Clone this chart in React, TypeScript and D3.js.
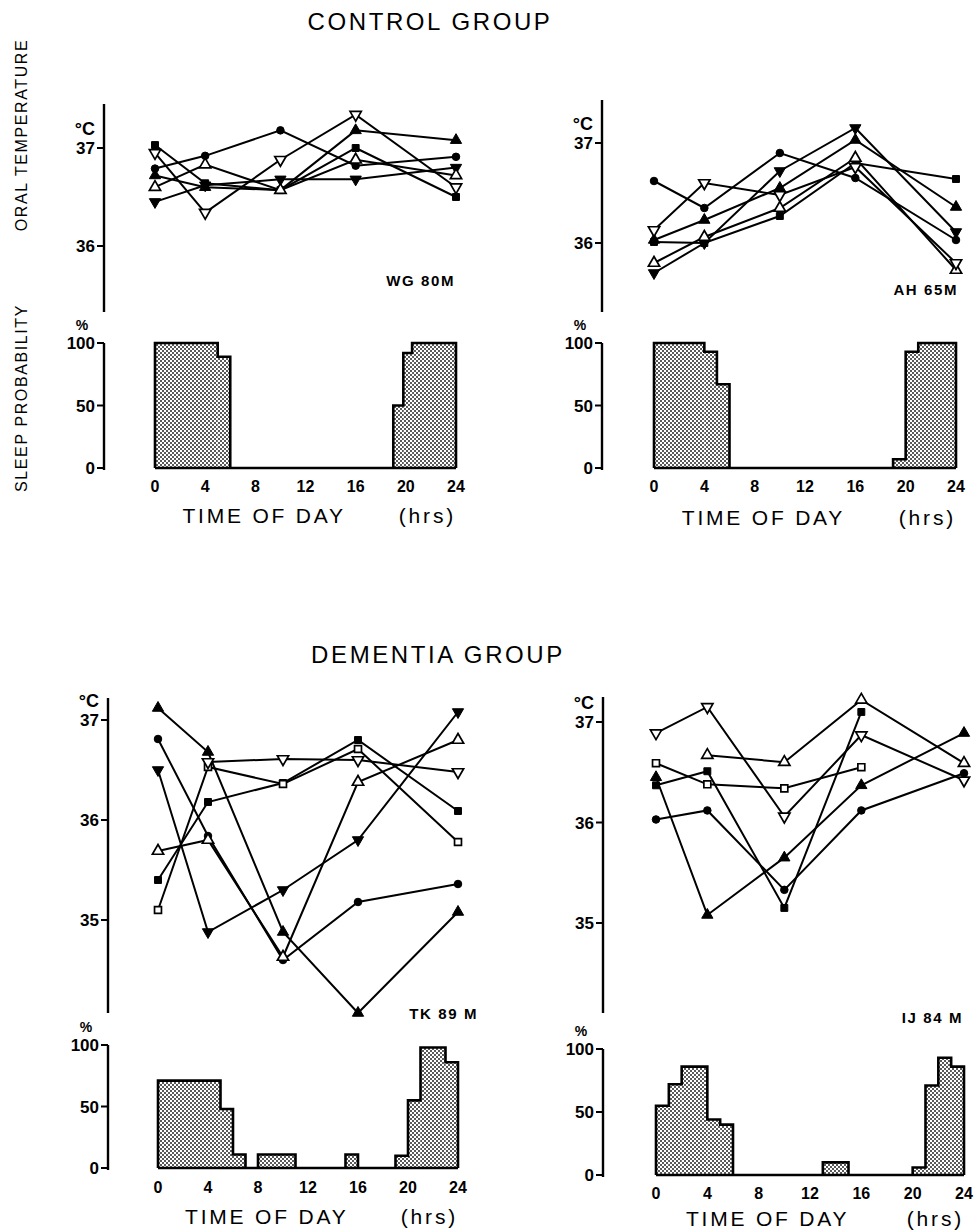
import React from 'react';
import * as d3 from 'd3';

// ---------- data ----------
const TIMES = [0, 4, 10, 16, 24];
const HOUR_TICKS = [0, 4, 8, 12, 16, 20, 24];
const PCT_TICKS = [0, 50, 100];

// Control: WG 80M
const wgCircleF = [36.79, 36.92, 37.18, 36.82, 36.91];
const wgSquareF = [37.03, 36.64, 36.57, 37.0, 36.5];
const wgUpF = [36.72, 36.6, 36.57, 37.18, 37.08];
const wgDownF = [36.45, 36.62, 36.68, 36.68, 36.8];
const wgUpO = [36.6, 36.83, 36.57, 36.88, 36.72];
const wgDownO = [36.95, 36.34, 36.88, 37.34, 36.6];
const wgSleepFrom = [0, 5, 19, 19.8, 20.5];
const wgSleepTo = [5, 6, 19.8, 20.5, 24];
const wgSleepPct = [100, 89, 50, 92, 100];

// Control: AH 65M
const ahCircleF = [36.62, 36.35, 36.9, 36.65, 36.03];
const ahSquareF = [36.01, 36.0, 36.27, 36.8, 36.64];
const ahUpF = [36.03, 36.23, 36.55, 37.03, 36.36];
const ahDownF = [35.7, 36.0, 36.72, 37.15, 36.11];
const ahUpO = [35.8, 36.06, 36.35, 36.85, 35.73];
const ahDownO = [36.13, 36.6, 36.48, 36.76, 35.8];
const ahSleepFrom = [0, 4, 5, 19, 20, 21];
const ahSleepTo = [4, 5, 6, 20, 21, 24];
const ahSleepPct = [100, 93, 67, 7, 93, 100];

// Dementia: TK 89 M
const tkUpF = [37.12, 36.68, 34.88, 34.07, 35.08];
const tkCircleF = [36.81, 35.84, 34.6, 35.18, 35.36];
const tkDownF = [36.5, 34.88, 35.3, 35.8, 37.08];
const tkUpO = [35.69, 35.8, 34.63, 36.38, 36.8];
const tkSquareF = [35.4, 36.18, 36.37, 36.8, 36.09];
const tkSquareO = [35.1, 36.53, 36.36, 36.71, 35.78];
const tkDownO = [null, 36.58, 36.61, 36.6, 36.48];
const tkSleepFrom = [0, 5, 6, 8, 15, 19, 20, 21, 23];
const tkSleepTo = [5, 6, 7, 11, 16, 20, 21, 23, 24];
const tkSleepPct = [71, 48, 11, 11, 11, 10, 55, 98, 86];

// Dementia: IJ 84 M
const ijDownO = [36.89, 37.15, 36.06, 36.87, 36.42];
const ijUpO = [null, 36.67, 36.6, 37.22, 36.59];
const ijSquareO = [36.59, 36.38, 36.34, 36.55, null];
const ijSquareF = [36.37, 36.51, 35.15, 37.1, null];
const ijUpF = [36.45, 35.08, 35.65, 36.37, 36.89];
const ijCircleF = [36.03, 36.12, 35.33, 36.12, 36.49];
const ijSleepFrom = [0, 1, 2, 4, 5, 13, 20, 21, 22, 23];
const ijSleepTo = [1, 2, 4, 5, 6, 15, 21, 22, 23, 24];
const ijSleepPct = [55, 72, 86, 44, 40, 10, 6, 71, 93, 86];

// ---------- drawing ----------
type MarkerKind = 'circle' | 'square' | 'up' | 'down';
type Series = { marker: MarkerKind; filled: boolean; values: (number | null)[] };

const FONT = '"Liberation Sans", Arial, sans-serif';

function Marker({ x, y, kind, filled }: { x: number; y: number; kind: MarkerKind; filled: boolean }) {
  const type = kind === 'circle' ? d3.symbolCircle : kind === 'square' ? d3.symbolSquare : d3.symbolTriangle;
  const size = kind === 'circle' ? 45 : kind === 'square' ? 48 : 55;
  const d = d3.symbol().type(type).size(size)() || '';
  const rot = kind === 'down' ? 180 : 0;
  return (
    <path
      d={d}
      transform={`translate(${x},${y}) rotate(${rot})`}
      fill={filled ? '#000' : '#fff'}
      stroke="#000"
      strokeWidth={filled ? 1 : 1.7}
    />
  );
}

type PanelCfg = {
  axisX: number;
  tempTop: number;
  tempBottom: number;
  tempDomain: [number, number];
  tempRange: [number, number];
  tempTicks: number[];
  xRange: [number, number];
  sleepRange: [number, number];
  label: string;
  labelX: number;
  labelY: number;
  tickLabelY: number;
  titleY: number;
  series: Series[];
  sleepFrom: number[];
  sleepTo: number[];
  sleepPct: number[];
};

function Panel({ cfg }: { cfg: PanelCfg }) {
  const x = d3.scaleLinear().domain([0, 24]).range(cfg.xRange);
  const yT = d3.scaleLinear().domain(cfg.tempDomain).range(cfg.tempRange);
  const yS = d3.scaleLinear().domain([0, 100]).range(cfg.sleepRange);
  const ax = cfg.axisX;
  const topTick = cfg.tempTicks[cfg.tempTicks.length - 1];

  const groups: number[][] = [];
  cfg.sleepFrom.forEach((f, i) => {
    if (i > 0 && Math.abs(cfg.sleepTo[i - 1] - f) < 1e-6) groups[groups.length - 1].push(i);
    else groups.push([i]);
  });
  const outline = groups.map((g) => {
    const pts: [number, number][] = [];
    pts.push([x(cfg.sleepFrom[g[0]]), yS(0)]);
    g.forEach((i) => {
      pts.push([x(cfg.sleepFrom[i]), yS(cfg.sleepPct[i])]);
      pts.push([x(cfg.sleepTo[i]), yS(cfg.sleepPct[i])]);
    });
    pts.push([x(cfg.sleepTo[g[g.length - 1]]), yS(0)]);
    return d3.line()(pts) || '';
  });

  const lineGen = d3
    .line<number | null>()
    .defined((v) => v !== null)
    .x((_, i) => x(TIMES[i]))
    .y((v) => yT(v as number));

  return (
    <g fontFamily={FONT}>
      <line x1={ax} x2={ax} y1={cfg.tempTop} y2={cfg.tempBottom} stroke="#000" strokeWidth={2.4} />
      {cfg.tempTicks.map((t) => (
        <g key={t}>
          <line x1={ax - 7} x2={ax} y1={yT(t)} y2={yT(t)} stroke="#000" strokeWidth={2} />
          <text x={ax - 9} y={yT(t) + 6} textAnchor="end" fontSize={17} fontWeight="bold">
            {t}
          </text>
        </g>
      ))}
      <text x={ax - 9} y={yT(topTick) - 13} textAnchor="end" fontSize={18} fontWeight="bold">
        °C
      </text>
      {cfg.series.map((s, si) => (
        <g key={si}>
          <path d={lineGen(s.values) || ''} fill="none" stroke="#000" strokeWidth={2} />
          {s.values.map((v, i) =>
            v === null ? null : <Marker key={i} x={x(TIMES[i])} y={yT(v)} kind={s.marker} filled={s.filled} />
          )}
        </g>
      ))}
      <text x={cfg.labelX} y={cfg.labelY} textAnchor="end" fontSize={15} fontWeight="bold" letterSpacing={1.6}>
        {cfg.label}
      </text>

      <line x1={ax} x2={ax} y1={yS(100)} y2={yS(0) + 2} stroke="#000" strokeWidth={2.4} />
      {PCT_TICKS.map((p) => (
        <g key={p}>
          <line x1={ax - 7} x2={ax} y1={yS(p)} y2={yS(p)} stroke="#000" strokeWidth={2} />
          <text x={ax - 9} y={yS(p) + 6} textAnchor="end" fontSize={17} fontWeight="bold">
            {p}
          </text>
        </g>
      ))}
      <text x={ax - 22} y={yS(100) - 13} textAnchor="middle" fontSize={14} fontWeight="bold">
        %
      </text>
      {cfg.sleepFrom.map((f, i) => (
        <rect
          key={i}
          x={x(f)}
          y={yS(cfg.sleepPct[i])}
          width={x(cfg.sleepTo[i]) - x(f)}
          height={yS(0) - yS(cfg.sleepPct[i])}
          fill="url(#dots)"
        />
      ))}
      {outline.map((d, i) => (
        <path key={i} d={d} fill="none" stroke="#000" strokeWidth={2.6} strokeLinejoin="miter" />
      ))}
      <line x1={x(0)} x2={x(24)} y1={yS(0)} y2={yS(0)} stroke="#000" strokeWidth={2.6} />
      {HOUR_TICKS.map((h) => (
        <text key={h} x={x(h)} y={cfg.tickLabelY} textAnchor="middle" fontSize={16} fontWeight="bold">
          {h}
        </text>
      ))}
      <text x={x(8.7)} y={cfg.titleY} textAnchor="middle" fontSize={21} letterSpacing={2.8}>
        TIME OF DAY
      </text>
      <text x={x(24)} y={cfg.titleY} textAnchor="end" fontSize={21} letterSpacing={2.8}>
        (hrs)
      </text>
    </g>
  );
}

const ser = (marker: MarkerKind, filled: boolean, values: (number | null)[]): Series => ({ marker, filled, values });

const panels: PanelCfg[] = [
  {
    axisX: 104, tempTop: 104, tempBottom: 312, tempDomain: [36, 37], tempRange: [246, 148], tempTicks: [36, 37],
    xRange: [155, 456], sleepRange: [468, 343], label: 'WG 80M', labelX: 455, labelY: 286, tickLabelY: 492, titleY: 523,
    series: [
      ser('circle', true, wgCircleF), ser('square', true, wgSquareF), ser('up', true, wgUpF),
      ser('down', true, wgDownF), ser('up', false, wgUpO), ser('down', false, wgDownO),
    ],
    sleepFrom: wgSleepFrom, sleepTo: wgSleepTo, sleepPct: wgSleepPct,
  },
  {
    axisX: 602, tempTop: 100, tempBottom: 312, tempDomain: [36, 37], tempRange: [243, 143], tempTicks: [36, 37],
    xRange: [654, 956], sleepRange: [468, 343], label: 'AH 65M', labelX: 958, labelY: 295, tickLabelY: 492, titleY: 525,
    series: [
      ser('circle', true, ahCircleF), ser('square', true, ahSquareF), ser('up', true, ahUpF),
      ser('down', true, ahDownF), ser('up', false, ahUpO), ser('down', false, ahDownO),
    ],
    sleepFrom: ahSleepFrom, sleepTo: ahSleepTo, sleepPct: ahSleepPct,
  },
  {
    axisX: 108, tempTop: 698, tempBottom: 1013, tempDomain: [35, 37], tempRange: [920, 720], tempTicks: [35, 36, 37],
    xRange: [158, 458], sleepRange: [1168, 1045], label: 'TK 89 M', labelX: 478, labelY: 1019, tickLabelY: 1193, titleY: 1224,
    series: [
      ser('up', true, tkUpF), ser('circle', true, tkCircleF), ser('down', true, tkDownF), ser('up', false, tkUpO),
      ser('square', true, tkSquareF), ser('square', false, tkSquareO), ser('down', false, tkDownO),
    ],
    sleepFrom: tkSleepFrom, sleepTo: tkSleepTo, sleepPct: tkSleepPct,
  },
  {
    axisX: 603, tempTop: 697, tempBottom: 1013, tempDomain: [35, 37], tempRange: [923, 722], tempTicks: [35, 36, 37],
    xRange: [656, 964], sleepRange: [1175, 1049], label: 'IJ 84 M', labelX: 963, labelY: 1023, tickLabelY: 1199, titleY: 1226,
    series: [
      ser('down', false, ijDownO), ser('up', false, ijUpO), ser('square', false, ijSquareO),
      ser('square', true, ijSquareF), ser('up', true, ijUpF), ser('circle', true, ijCircleF),
    ],
    sleepFrom: ijSleepFrom, sleepTo: ijSleepTo, sleepPct: ijSleepPct,
  },
];

export default function App() {
  return (
    <svg
      width={974}
      height={1231}
      style={{ position: 'absolute', left: 0, top: 0, background: '#fff' }}
      fontFamily={FONT}
    >
      <defs>
        <pattern id="dots" width={4} height={4} patternUnits="userSpaceOnUse">
          <rect width={4} height={4} fill="#fff" />
          <circle cx={1} cy={1} r={1} fill="#222" />
          <circle cx={3} cy={3} r={1} fill="#222" />
        </pattern>
      </defs>
      <rect width={974} height={1231} fill="#fff" />
      <text x={430} y={30} textAnchor="middle" fontSize={24} letterSpacing={2.6}>
        CONTROL GROUP
      </text>
      <text x={438} y={663} textAnchor="middle" fontSize={24} letterSpacing={2.6}>
        DEMENTIA GROUP
      </text>
      <text transform="translate(27,135) rotate(-90)" textAnchor="middle" fontSize={16} letterSpacing={1.6}>
        ORAL TEMPERATURE
      </text>
      <text transform="translate(27,398) rotate(-90)" textAnchor="middle" fontSize={16} letterSpacing={1.6}>
        SLEEP PROBABILITY
      </text>
      {panels.map((p, i) => (
        <Panel key={i} cfg={p} />
      ))}
    </svg>
  );
}
